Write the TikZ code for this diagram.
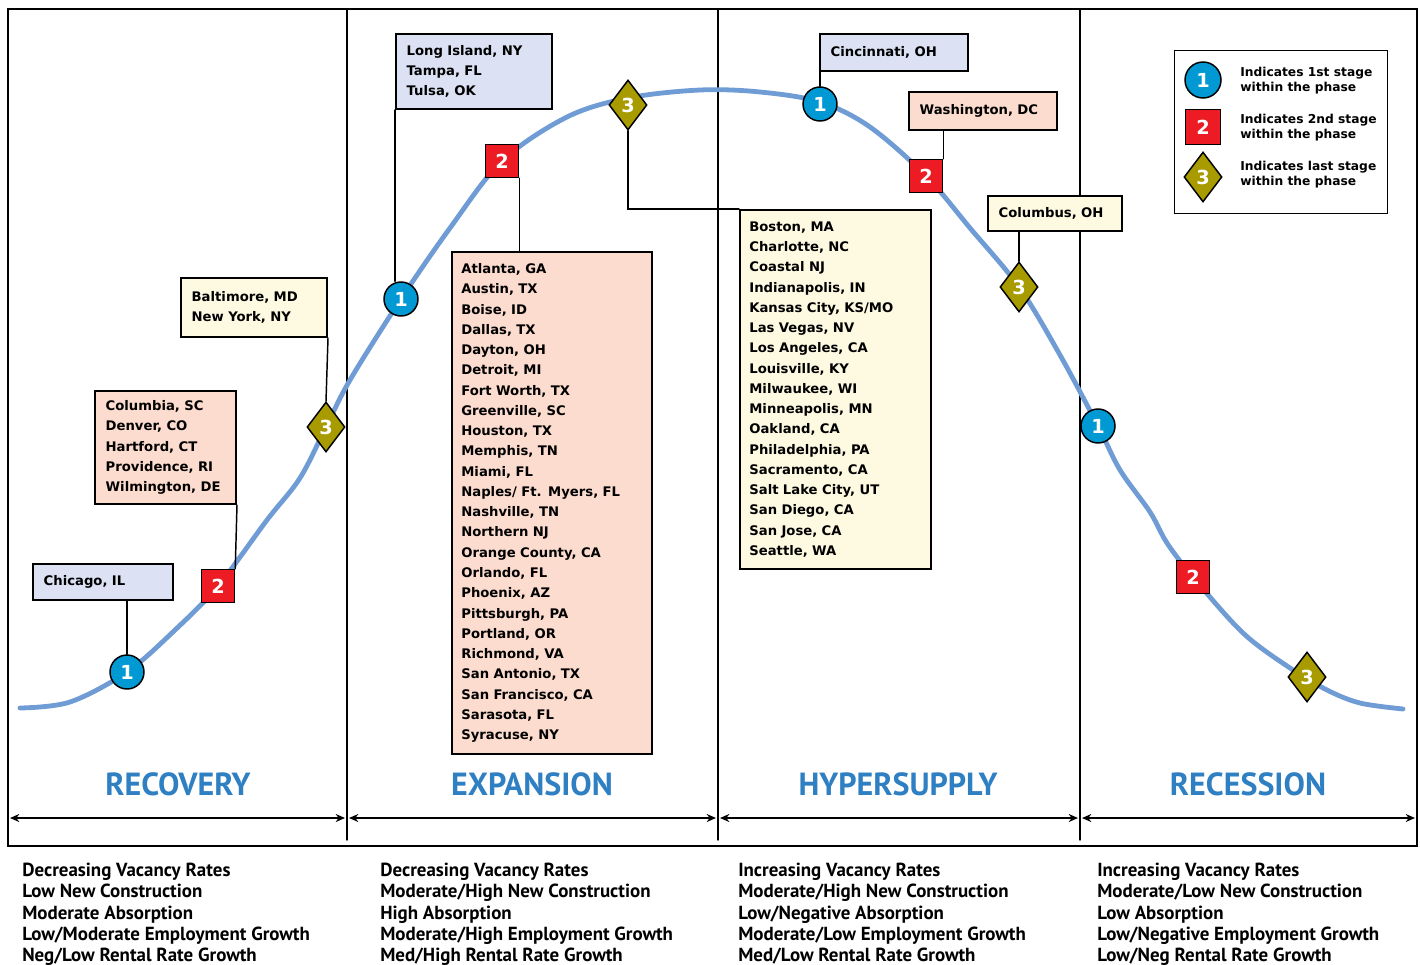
\documentclass[tikz,border=0pt]{standalone}
\usepackage{fontspec}
\setmainfont{DejaVu Sans}
\newfontfamily\phasefont{PT Sans}
\usetikzlibrary{arrows.meta,shapes.geometric}
\definecolor{curveblue}{HTML}{6F9CD4}
\definecolor{stageblue}{HTML}{0099D4}
\definecolor{stagered}{HTML}{ED1C24}
\definecolor{stageolive}{HTML}{A89B00}
\definecolor{boxlav}{HTML}{DCE2F3}
\definecolor{boxpeach}{HTML}{FCDCCE}
\definecolor{boxcream}{HTML}{FEFAE2}
\definecolor{phaseblue}{HTML}{2F7FC3}
\newcommand{\cityfont}{\bfseries\fontsize{9.9}{15.2}\selectfont}
\newcommand{\notefont}{\phasefont\bfseries\fontsize{14.2}{15.9}\selectfont}

\begin{document}
\begin{tikzpicture}[x=0.75pt,y=-0.75pt,>={Stealth[length=7pt,width=6pt]},line cap=round,
  citybox/.style={draw,line width=1.5pt,anchor=north west,align=left,inner xsep=8pt,inner ysep=0pt,font=\cityfont},
  stagecircle/.style={circle,draw,line width=1.1pt,fill=stageblue,minimum size=25.5pt,inner sep=0pt,text=white,font=\bfseries\fontsize{14.5}{14.5}\selectfont},
  stagesquare/.style={rectangle,draw,line width=1.1pt,fill=stagered,minimum size=24.75pt,inner sep=0pt,text=white,font=\bfseries\fontsize{14.5}{14.5}\selectfont},
  stagediamond/.style={diamond,draw,line width=1.1pt,fill=stageolive,minimum width=28.5pt,minimum height=37.5pt,inner sep=0pt,text=white,font=\bfseries\fontsize{14.5}{14.5}\selectfont},
  link/.style={line width=1.1pt},
  phase/.style={text=phaseblue,font=\phasefont\bfseries\fontsize{24}{26}\selectfont},
  note/.style={anchor=north west,align=left,inner sep=0pt,font=\notefont},
  legendtext/.style={anchor=west,align=left,inner sep=0pt,font=\bfseries\fontsize{9.2}{11.25}\selectfont}]
\useasboundingbox (0,0) rectangle (1420,964);

% frame, phases
\draw[line width=2.2pt] (8,9) rectangle (1417,846);
\draw[line width=1.1pt] (347,9) -- (347,840);
\draw[line width=1.1pt] (718,9) -- (718,840);
\draw[line width=1.1pt] (1080,9) -- (1080,840);
\draw[<->,line width=1.1pt] (10,818) -- (345,818);
\draw[<->,line width=1.1pt] (349,818) -- (716,818);
\draw[<->,line width=1.1pt] (720,818) -- (1078,818);
\draw[<->,line width=1.1pt] (1082,818) -- (1415,818);
\node[phase] (recovery) at (178,784) {RECOVERY};
\node[phase] (expansion) at (532,784) {EXPANSION};
\node[phase] (hypersupply) at (898,784) {HYPERSUPPLY};
\node[phase] (recession) at (1248,784) {RECESSION};

% market cycle
\draw[curveblue,line width=3.6pt] plot[smooth,tension=0.55] coordinates {(20,708) (70,702) (127,672) (175,630) (218,586) (267,520) (300,478) (326,427) (350,380) (401,299) (450,228) (502,161) (567,117) (628,98) (700,90) (760,92) (820,102) (870,127) (926,176) (970,228) (1019,287) (1060,355) (1098,426) (1120,470) (1150,512) (1167,543) (1193,577) (1243,633) (1290,668) (1327,690) (1360,703) (1403,709)};

% city boxes
\node[citybox,fill=boxlav,text width=89pt,minimum height=27pt] (chi) at (32,563) {Chicago, IL};
\node[citybox,fill=boxpeach,text width=89.75pt,minimum height=84.75pt] (col) at (94,390) {Columbia, SC\\Denver, CO\\Hartford, CT\\Providence, RI\\Wilmington, DE};
\node[citybox,fill=boxcream,text width=93.5pt,minimum height=44.25pt] (bal) at (180,277) {Baltimore, MD\\New York, NY};
\node[citybox,fill=boxlav,text width=101pt,minimum height=56.25pt] (li) at (395,33) {Long Island, NY\\Tampa, FL\\Tulsa, OK};
\node[citybox,fill=boxpeach,text width=136pt,minimum height=376.5pt,inner xsep=7pt] (atl) at (451,251) {Atlanta, GA\\Austin, TX\\Boise, ID\\Dallas, TX\\Dayton, OH\\Detroit, MI\\Fort Worth, TX\\Greenville, SC\\Houston, TX\\Memphis, TN\\Miami, FL\\Naples/ Ft. Myers, FL\\Nashville, TN\\Northern NJ\\Orange County, CA\\Orlando, FL\\Phoenix, AZ\\Pittsburgh, PA\\Portland, OR\\Richmond, VA\\San Antonio, TX\\San Francisco, CA\\Sarasota, FL\\Syracuse, NY};
\node[citybox,fill=boxcream,text width=129.25pt,minimum height=269.25pt,inner xsep=7pt] (bos) at (739,209) {Boston, MA\\Charlotte, NC\\Coastal NJ\\Indianapolis, IN\\Kansas City, KS/MO\\Las Vegas, NV\\Los Angeles, CA\\Louisville, KY\\Milwaukee, WI\\Minneapolis, MN\\Oakland, CA\\Philadelphia, PA\\Sacramento, CA\\Salt Lake City, UT\\San Diego, CA\\San Jose, CA\\Seattle, WA};
\node[citybox,fill=boxlav,text width=95pt,minimum height=27.75pt] (cin) at (819,33) {Cincinnati, OH};
\node[citybox,fill=boxpeach,text width=95pt,minimum height=28.5pt] (was) at (908,91) {Washington, DC};
\node[citybox,fill=boxcream,text width=84.5pt,minimum height=26.25pt] (clb) at (987,195) {Columbus, OH};

% stage markers
\node[stagecircle] (c1a) at (127,672) {1};
\node[stagesquare] (r2a) at (218,586) {2};
\node[stagediamond] (d3a) at (326,427) {3};
\node[stagecircle] (c1b) at (401,299) {1};
\node[stagesquare] (r2b) at (502,161) {2};
\node[stagediamond] (d3b) at (628,105) {3};
\node[stagecircle] (c1c) at (820,104) {1};
\node[stagesquare] (r2c) at (926,176) {2};
\node[stagediamond] (d3c) at (1019,287) {3};
\node[stagecircle] (c1d) at (1098,426) {1};
\node[stagesquare] (r2d) at (1193,577) {2};
\node[stagediamond] (d3d) at (1307,677) {3};

\draw[link] (c1a.north |- chi.south) -- (c1a);
\draw[link] (col.south east) -- (r2a.north east);
\draw[link] (bal.south east) -- (d3a.north);
\draw[link] (li.south west) -- (li.south west |- c1b.north);
\draw[link] (r2b.south east) -- (r2b.south east |- atl.north);
\draw[link] (d3b.south) |- (bos.north west);
\draw[link] (c1c.north |- cin.south) -- (c1c);
\draw[link] (r2c.north east) -- (r2c.north east |- was.south);
\draw[link] (d3c.north |- clb.south) -- (d3c.north);

% legend
\node[draw,line width=1.1pt,fill=white,anchor=north west,minimum width=159.75pt,minimum height=122.25pt] (legend) at (1174,50) {};
\node[stagecircle,minimum size=27pt] (lgone) at (1203,80) {1};
\node[stagesquare,minimum size=26pt] (lgtwo) at (1203,127) {2};
\node[stagediamond] (lgthree) at (1203,177) {3};
\node[legendtext] (lgonetext) at (1240,80.5) {Indicates 1st stage\\within the phase};
\node[legendtext] (lgtwotext) at (1240,127.5) {Indicates 2nd stage\\within the phase};
\node[legendtext] (lgthreetext) at (1240,174.5) {Indicates last stage\\within the phase};

% phase notes
\node[note] (recnotes) at (22,863) {Decreasing Vacancy Rates\\Low New Construction\\Moderate Absorption\\Low/Moderate Employment Growth\\Neg/Low Rental Rate Growth};
\node[note] (expnotes) at (380,863) {Decreasing Vacancy Rates\\Moderate/High New Construction\\High Absorption\\Moderate/High Employment Growth\\Med/High Rental Rate Growth};
\node[note] (hypnotes) at (738,863) {Increasing Vacancy Rates\\Moderate/High New Construction\\Low/Negative Absorption\\Moderate/Low Employment Growth\\Med/Low Rental Rate Growth};
\node[note] (resnotes) at (1097,863) {Increasing Vacancy Rates\\Moderate/Low New Construction\\Low Absorption\\Low/Negative Employment Growth\\Low/Neg Rental Rate Growth};
\end{tikzpicture}
\end{document}
